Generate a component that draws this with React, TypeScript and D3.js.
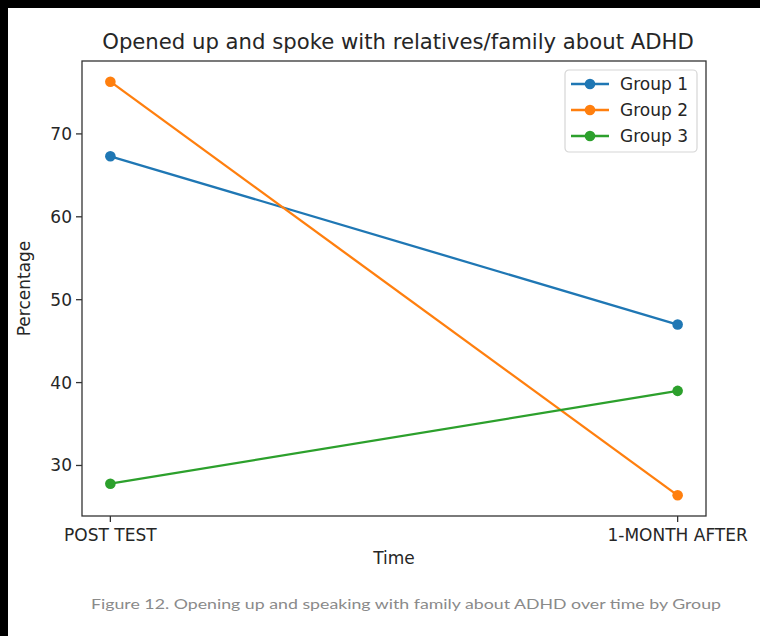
import React from 'react';
import * as d3 from 'd3';

const timePoints = ['POST TEST', '1-MONTH AFTER'];
const groupNames = ['Group 1', 'Group 2', 'Group 3'];
const groupValues = [
  [67.3, 47.0],
  [76.3, 26.4],
  [27.8, 39.0],
];
const groupColors = ['#1f77b4', '#ff7f0e', '#2ca02c'];
const yTicks = [30, 40, 50, 60, 70];

const W = 760;
const H = 636;
const margin = { top: 61, right: 54, bottom: 120, left: 82 };
const innerW = W - margin.left - margin.right;
const innerH = H - margin.top - margin.bottom;

export default function App() {
  const allVals = groupValues.flat();
  const [lo, hi] = d3.extent(allVals) as [number, number];
  const pad = (hi - lo) * 0.05;

  // matplotlib style 5% margins on each side
  const xLin = d3.scaleLinear().domain([-0.05, 1.05]).range([0, innerW]);
  const xPos = (t: string) => xLin(timePoints.indexOf(t));
  const y = d3.scaleLinear().domain([lo - pad, hi + pad]).range([innerH, 0]);

  const line = d3
    .line<number>()
    .x((_, i) => xPos(timePoints[i]))
    .y((d) => y(d));

  const font = 'DejaVu Sans, sans-serif';
  const textColor = '#262626';

  return (
    <svg width={W} height={H} style={{ position: 'absolute', left: 0, top: 0, background: '#fff' }}>
      <rect x={0} y={0} width={W} height={8} fill="#000" />
      <rect x={0} y={0} width={8} height={H} fill="#000" />

      <text x={398} y={49} textAnchor="middle" fontFamily={font} fontSize={21.2} fill={textColor}>
        Opened up and spoke with relatives/family about ADHD
      </text>

      <g transform={`translate(${margin.left},${margin.top})`}>
        {groupValues.map((vals, gi) => (
          <g key={groupNames[gi]}>
            <path d={line(vals) || ''} fill="none" stroke={groupColors[gi]} strokeWidth={2.3} />
            {vals.map((v, i) => (
              <circle key={i} cx={xPos(timePoints[i])} cy={y(v)} r={5.3} fill={groupColors[gi]} />
            ))}
          </g>
        ))}

        <rect x={0} y={0} width={innerW} height={innerH} fill="none" stroke="#333" strokeWidth={1.3} />

        {yTicks.map((t) => (
          <g key={t} transform={`translate(0,${y(t)})`}>
            <line x1={-6} x2={0} stroke="#333" strokeWidth={1.3} />
            <text x={-10} dy="0.35em" textAnchor="end" fontFamily={font} fontSize={17} fill={textColor}>
              {t}
            </text>
          </g>
        ))}

        {timePoints.map((t) => (
          <g key={t} transform={`translate(${xPos(t)},${innerH})`}>
            <line y1={0} y2={6} stroke="#333" strokeWidth={1.3} />
            <text y={25} textAnchor="middle" fontFamily={font} fontSize={17} fill={textColor}>
              {t}
            </text>
          </g>
        ))}

        <text x={innerW / 2} y={innerH + 48} textAnchor="middle" fontFamily={font} fontSize={17} fill={textColor}>
          Time
        </text>
        <text
          transform={`translate(${-52},${innerH / 2}) rotate(-90)`}
          textAnchor="middle"
          fontFamily={font}
          fontSize={17}
          fill={textColor}
        >
          Percentage
        </text>

        {/* Legend */}
        <g transform={`translate(${innerW - 141},${9})`}>
          <rect x={0} y={0} width={132} height={82} rx={4} fill="#fff" fillOpacity={0.8} stroke="#d6d6d6" strokeWidth={1.2} />
          {groupNames.map((name, i) => (
            <g key={name} transform={`translate(0,${14 + i * 26})`}>
              <line x1={6} x2={44} stroke={groupColors[i]} strokeWidth={2.3} />
              <circle cx={25} cy={0} r={5.3} fill={groupColors[i]} />
              <text x={55} dy="0.35em" fontFamily={font} fontSize={17} fill={textColor}>
                {name}
              </text>
            </g>
          ))}
        </g>
      </g>

      <text
        x={406}
        y={609}
        textAnchor="middle"
        fontFamily="Lato, sans-serif"
        fontSize={14}
        fill="#8a8a8a"
        textLength={630}
        lengthAdjust="spacingAndGlyphs"
      >
        Figure 12. Opening up and speaking with family about ADHD over time by Group
      </text>
    </svg>
  );
}
